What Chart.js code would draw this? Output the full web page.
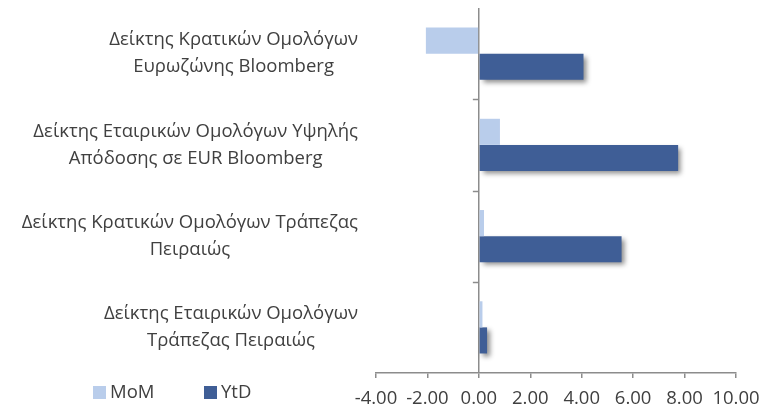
<!DOCTYPE html>
<html lang="el">
  <head>
    <meta charset="UTF-8" />
    <title>MoM / YtD</title>
    <style>
      body {
        margin: 0;
        background: #ffffff;
      }
      .chart-container {
        position: relative;
        width: 772px;
        height: 408px;
      }
    </style>
  </head>
  <body>
    <div class="chart-container">
      <canvas id="bondChart"></canvas>
    </div>

    <script src="https://cdn.jsdelivr.net/npm/chart.js"></script>
    <script>
      // categories (each one split into its two printed lines)
      const categories = [
        ["Δείκτης Κρατικών Ομολόγων", "Ευρωζώνης Bloomberg"],
        ["Δείκτης Εταιρικών Ομολόγων Υψηλής", "Απόδοσης σε EUR Bloomberg"],
        ["Δείκτης Κρατικών Ομολόγων Τράπεζας", "Πειραιώς"],
        ["Δείκτης Εταιρικών Ομολόγων", "Τράπεζας Πειραιώς"],
      ];
      const seriesNames = ["MoM", "YtD"];
      const momValues = [-2.06, 0.82, 0.2, 0.14];
      const ytdValues = [4.07, 7.75, 5.55, 0.32];
      const xTicks = [-4, -2, 0, 2, 4, 6, 8, 10];

      const textColor = "#404040";
      const axisColor = "#8c8c8c";
      const fontFamily = "'Open Sans', sans-serif";
      const fontSize = 18.5;

      Chart.defaults.font.family = fontFamily;
      Chart.defaults.font.size = fontSize;
      Chart.defaults.color = textColor;

      // drop shadow under the YtD bars only
      const shadowPlugin = {
        id: "barShadow",
        beforeDatasetDraw(chart, args) {
          if (args.index !== 1) return;
          const ctx = chart.ctx;
          ctx.save();
          ctx.shadowColor = "rgba(0, 0, 0, 0.45)";
          ctx.shadowBlur = 5;
          ctx.shadowOffsetX = 3;
          ctx.shadowOffsetY = 3;
        },
        afterDatasetDraw(chart, args) {
          if (args.index !== 1) return;
          chart.ctx.restore();
        },
      };

      // category labels (right aligned block, centred lines), ticks on the
      // zero line, and the legend at the bottom left
      const labelPlugin = {
        id: "sideLabels",
        afterDraw(chart) {
          const ctx = chart.ctx;
          const xScale = chart.scales.x;
          const yScale = chart.scales.y;
          const x0 = xScale.getPixelForValue(0);
          const lineHeight = 27;

          ctx.save();
          ctx.font = fontSize + "px " + fontFamily;
          ctx.fillStyle = textColor;
          ctx.textAlign = "center";
          ctx.textBaseline = "middle";
          const rightEdge = chart.chartArea.left - 18;
          categories.forEach((lines, i) => {
            const yc = yScale.getPixelForValue(i);
            const widest = Math.max(...lines.map((l) => ctx.measureText(l).width));
            const xc = rightEdge - widest / 2;
            lines.forEach((line, j) => {
              const y = yc + (j - (lines.length - 1) / 2) * lineHeight;
              ctx.fillText(line, xc, y);
            });
          });

          // small ticks between categories on the zero line
          ctx.strokeStyle = axisColor;
          ctx.lineWidth = 1.5;
          for (let i = 0; i < categories.length - 1; i++) {
            const y = Math.round(yScale.getPixelForValue(i + 0.5)) + 0.5;
            ctx.beginPath();
            ctx.moveTo(x0 - 6, y);
            ctx.lineTo(x0, y);
            ctx.stroke();
          }

          // legend
          const legendY = 393;
          const legendX = [93, 204];
          ctx.textAlign = "left";
          chart.data.datasets.forEach((ds, i) => {
            ctx.fillStyle = ds.backgroundColor;
            ctx.fillRect(legendX[i], legendY - 7, 13, 13);
            ctx.fillStyle = textColor;
            ctx.fillText(ds.label, legendX[i] + 17, legendY);
          });
          ctx.restore();
        },
      };

      new Chart(document.getElementById("bondChart"), {
        type: "bar",
        data: {
          labels: categories,
          datasets: [
            {
              label: seriesNames[0],
              data: momValues,
              backgroundColor: "#b9cdeb",
              categoryPercentage: 0.572,
              barPercentage: 1,
            },
            {
              label: seriesNames[1],
              data: ytdValues,
              backgroundColor: "#3f5e96",
              categoryPercentage: 0.572,
              barPercentage: 1,
            },
          ],
        },
        options: {
          indexAxis: "y",
          responsive: true,
          maintainAspectRatio: false,
          animation: false,
          layout: {
            padding: { left: 376, right: 36, top: 8, bottom: 0 },
          },
          plugins: {
            legend: { display: false },
            tooltip: { enabled: false },
          },
          scales: {
            x: {
              min: xTicks[0],
              max: xTicks[xTicks.length - 1],
              afterBuildTicks: (scale) => {
                scale.ticks = xTicks.map((v) => ({ value: v }));
              },
              afterFit: (scale) => {
                scale.height = 35;
              },
              ticks: {
                padding: 10,
                color: textColor,
                autoSkip: false,
                maxRotation: 0,
                minRotation: 0,
                callback: (v) => Number(v).toFixed(2),
              },
              grid: {
                drawOnChartArea: true,
                color: (c) => (c.tick && c.tick.value === 0 ? axisColor : "transparent"),
                lineWidth: 1.5,
                tickColor: axisColor,
                tickLength: 5,
              },
              border: { display: true, color: axisColor, width: 1.5 },
            },
            y: {
              ticks: { display: false },
              grid: { display: false },
              border: { display: false },
              afterFit: (scale) => {
                scale.width = 0;
              },
            },
          },
        },
        plugins: [shadowPlugin, labelPlugin],
      });
    </script>
  </body>
</html>
